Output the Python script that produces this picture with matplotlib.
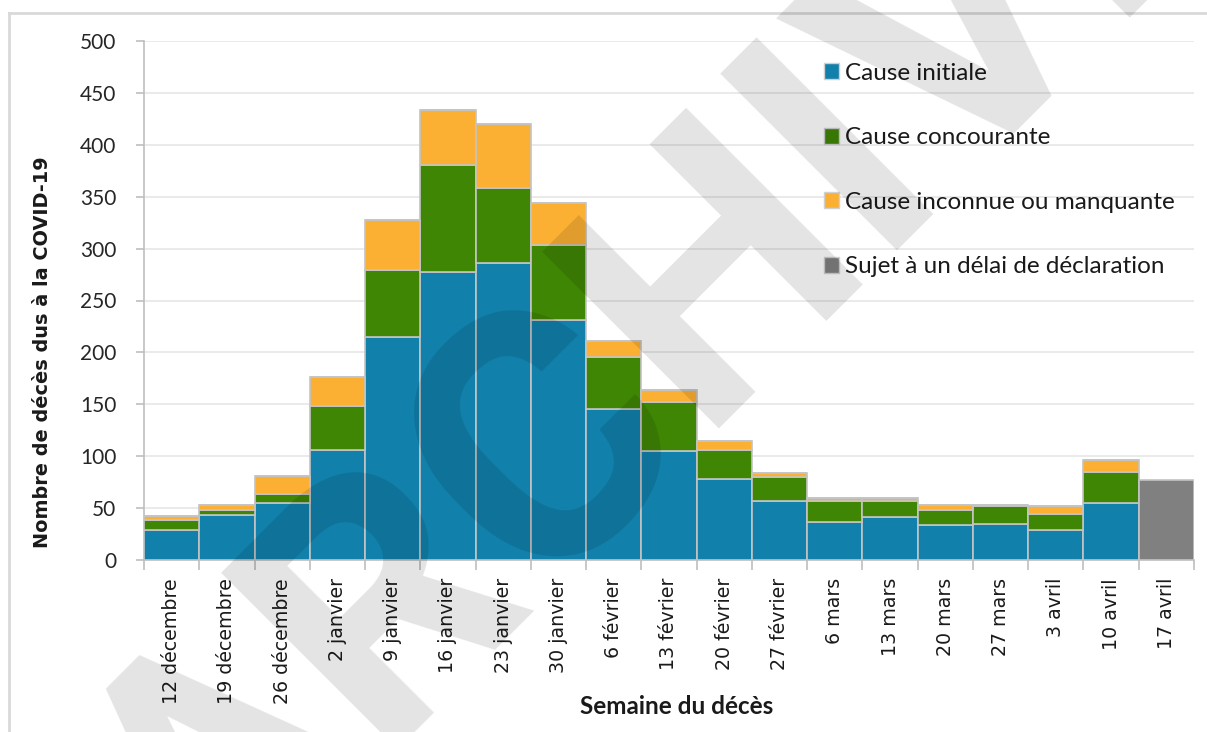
import numpy as np
import matplotlib
matplotlib.use("Agg")
import matplotlib.pyplot as plt
from matplotlib.patches import Patch
from matplotlib.lines import Line2D
from matplotlib.textpath import TextPath
from matplotlib.font_manager import FontProperties

# Semaines et nombre de décès par catégorie
semaines = ["12 décembre", "19 décembre", "26 décembre", "2 janvier", "9 janvier",
            "16 janvier", "23 janvier", "30 janvier", "6 février", "13 février",
            "20 février", "27 février", "6 mars", "13 mars", "20 mars", "27 mars",
            "3 avril", "10 avril", "17 avril"]
cause_initiale = [29, 43, 55, 106, 215, 277, 286, 231, 145, 105, 78, 57, 37, 41, 34, 35, 29, 55, 0]
cause_concourante = [10, 5, 9, 42, 64, 104, 72, 72, 51, 47, 28, 23, 20, 16, 14, 17, 15, 30, 0]
cause_inconnue = [3, 5, 17, 28, 49, 53, 62, 41, 15, 12, 9, 4, 3, 3, 5, 1, 8, 11, 0]
delai_declaration = [0] * 18 + [77]

series = [
    ("Cause initiale", cause_initiale, "#1180AA"),
    ("Cause concourante", cause_concourante, "#3F8604"),
    ("Cause inconnue ou manquante", cause_inconnue, "#FBB034"),
    ("Sujet à un délai de déclaration", delai_declaration, "#808080"),
]

W, H = 1207, 732
fig = plt.figure(figsize=(W / 100, H / 100), dpi=100)
ax = fig.add_axes([144 / W, 1 - 560 / H, 1050 / W, 519 / H])

x = np.arange(len(semaines))
bottom = np.zeros(len(semaines))
handles = []
for label, vals, color in series:
    vals = np.array(vals, dtype=float)
    ax.bar(x, vals, width=1.0, bottom=bottom, color=color,
           edgecolor="#C4C4C4", linewidth=1.2, zorder=3)
    bottom += vals
    handles.append(Patch(facecolor=color, edgecolor="#D0D0D0", label=label))

ax.set_xlim(-0.5, len(semaines) - 0.5)
ax.set_ylim(0, 500)
ax.set_yticks(np.arange(0, 501, 50))
ax.grid(axis="y", color="#E6E6E6", linewidth=1.2, zorder=0)
for s in ["top", "right"]:
    ax.spines[s].set_visible(False)
for s in ["left", "bottom"]:
    ax.spines[s].set_color("#BFBFBF")
    ax.spines[s].set_linewidth(1.2)

ax.tick_params(axis="y", length=6, width=1.2, color="#BFBFBF", pad=14,
               labelsize=15, labelcolor="#262626")
for t in ax.get_yticklabels():
    t.set_fontfamily("Lato")

ax.set_xticks(x)
ax.set_xticklabels(semaines, rotation=90, fontsize=13.7, fontfamily="DejaVu Sans",
                   color="#1A1A1A")
ax.set_xticks(np.arange(-0.5, len(semaines), 1.0), minor=True)
ax.tick_params(axis="x", which="major", length=0, pad=13)
ax.tick_params(axis="x", which="minor", length=7, width=1.2, color="#BFBFBF")

fig.text(43 / W, 1 - 352 / H, "Nombre de décès dus à la COVID-19", rotation=90,
         fontsize=13.9, fontweight="bold", fontfamily="DejaVu Sans", color="#1A1A1A",
         ha="center", va="center")
fig.text(677 / W, 1 - 707 / H, "Semaine du décès", fontsize=17.5, fontweight="bold",
         fontfamily="Lato", color="#1A1A1A", ha="center", va="center")

leg = ax.legend(handles=handles, loc="upper left", bbox_to_anchor=(814 / W, 1 - 53 / H),
                bbox_transform=fig.transFigure, frameon=False,
                prop={"family": "Lato", "size": 17.5},
                handlelength=0.62, handleheight=0.62, handletextpad=0.25,
                labelspacing=1.79, borderaxespad=0)
for t in leg.get_texts():
    t.set_color("#1A1A1A")

# cadre du graphique
fig.add_artist(Line2D([9 / W, 1], [1 - 13 / H] * 2, transform=fig.transFigure,
                      color="#D9D9D9", linewidth=2))
fig.add_artist(Line2D([9 / W] * 2, [0, 1 - 13 / H], transform=fig.transFigure,
                      color="#D9D9D9", linewidth=2))

# filigrane « ARCHIVÉ » à 45°, le bas du jambage gauche du H en (719, 428)
wm_size = 253
fp = FontProperties(family="Roboto", weight="bold", size=wm_size)
ext_arch = TextPath((0, 0), "ARCH", prop=fp).get_extents()
ext_h = TextPath((0, 0), "H", prop=fp).get_extents()
d = (ext_arch.x1 - ext_h.width - ext_arch.x0) * 100 / 72
c = np.cos(np.radians(45))
px, py = 719 - d * c, 428 + d * c
fig.text(px / W, 1 - py / H, "ARCHIVÉ", fontproperties=fp, color=(0, 0, 0, 0.11),
         rotation=45, rotation_mode="anchor", ha="left", va="baseline", zorder=10)

fig.savefig("out.png", dpi=100)
